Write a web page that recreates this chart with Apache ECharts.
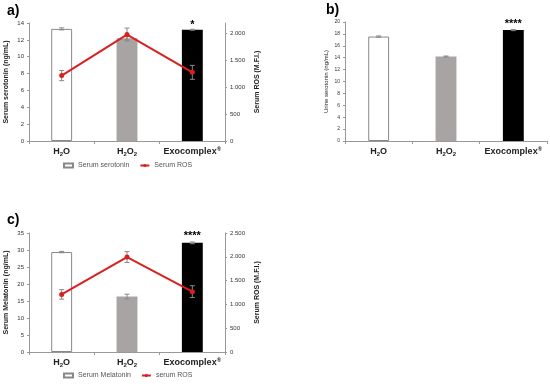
<!DOCTYPE html>
<html><head><meta charset="utf-8">
<script src="https://cdn.jsdelivr.net/npm/echarts@6/dist/echarts.min.js"></script>
<style>html,body{margin:0;padding:0;background:#fff}#c{width:550px;height:384px}</style>
</head><body><div id="c"></div>
<script>
var categories = ['H2O', 'H2O2', 'Exocomplex®'];
// panel a
var serumSerotonin = [13.3, 12.2, 13.2];
var serumSerotoninErr = [0.12, 0.2, 0.06];
var serumROS_a = [1220, 1985, 1280];
var serumROS_aErr = [95, 120, 130];
// panel b
var urineSerotonin = [17.55, 14.2, 18.65];
var urineSerotoninErr = [0.1, 0.08, 0.1];
// panel c
var serumMelatonin = [29.4, 16.3, 32.1];
var serumMelatoninErr = [0.2, 0.7, 0.25];
var serumROS_c = [1210, 1995, 1268];
var serumROS_cErr = [100, 115, 125];
var stars = ['*', '****', '****'];

var FONT = 'Liberation Sans';
var barColors = ['#ffffff', '#a8a4a4', '#000000'];

function catLabel(v) {
  if (v === 'H2O') return '{b|H}{s|2}{b|O}';
  if (v === 'H2O2') return '{b|H}{s|2}{b|O}{s|2}';
  return '{b|Exocomplex}{sup|®}';
}
function xAxis(gi) {
  return {
    type: 'category', gridIndex: gi, data: categories,
    axisLine: {lineStyle: {color: '#999', width: 1}},
    axisTick: {show: true, length: 3, lineStyle: {color: '#999'}},
    axisLabel: {
      interval: 0, formatter: catLabel, margin: 5,
      rich: {
        b: {fontFamily: FONT, fontWeight: 'bold', fontSize: 9, color: '#222'},
        s: {fontFamily: FONT, fontWeight: 'bold', fontSize: 6, color: '#222', verticalAlign: 'bottom', padding: [5, 0, 0, 0]},
        sup: {fontFamily: FONT, fontWeight: 'bold', fontSize: 6, color: '#222', verticalAlign: 'top', padding: [0, 0, 5, 0]}
      }
    }
  };
}
function dotFmt(v) {
  var s = String(v);
  return s.length > 3 ? s.slice(0, s.length - 3) + '.' + s.slice(s.length - 3) : s;
}
function yAxis(gi, max, interval, name, pos, opts) {
  opts = opts || {};
  return {
    type: 'value', gridIndex: gi, min: 0, max: max, interval: interval, position: pos,
    name: name, nameLocation: 'middle', nameRotate: 90, nameGap: opts.nameGap || 22,
    nameTextStyle: {fontFamily: FONT, fontSize: opts.nameSize || 7, fontWeight: opts.nameWeight || 'bold', color: '#222'},
    splitLine: {show: false},
    axisLine: {show: true, lineStyle: {color: '#999', width: 1}},
    axisTick: {show: true, length: 2, lineStyle: {color: '#999'}},
    axisLabel: {fontFamily: FONT, fontSize: opts.labelSize || 6, color: '#333', margin: 5,
      showMaxLabel: opts.showMax !== false, formatter: opts.fmt || null}
  };
}
function barData(vals, starIdx, star, dist) {
  return vals.map(function (v, i) {
    var d = {value: v, itemStyle: {color: barColors[i], borderColor: i === 0 ? '#888' : barColors[i], borderWidth: i === 0 ? 1 : 0}};
    if (i === starIdx) {
      d.label = {show: true, position: 'top', distance: dist, formatter: star,
        fontFamily: FONT, fontWeight: 'bold', fontSize: 11, color: '#000'};
    }
    return d;
  });
}
function errSeries(xi, yi, vals, errs, color) {
  return {
    type: 'custom', xAxisIndex: xi, yAxisIndex: yi, z: 5,
    data: vals.map(function (v, i) { return [i, v - errs[i], v + errs[i]]; }),
    renderItem: function (params, api) {
      var lo = api.coord([api.value(0), api.value(1)]);
      var hi = api.coord([api.value(0), api.value(2)]);
      var w = 2.5;
      var st = {stroke: color, lineWidth: 1};
      return {type: 'group', children: [
        {type: 'line', shape: {x1: lo[0], y1: lo[1], x2: hi[0], y2: hi[1]}, style: st},
        {type: 'line', shape: {x1: lo[0] - w, y1: lo[1], x2: lo[0] + w, y2: lo[1]}, style: st},
        {type: 'line', shape: {x1: hi[0] - w, y1: hi[1], x2: hi[0] + w, y2: hi[1]}, style: st}
      ]};
    }
  };
}
var legendText = {fontFamily: FONT, fontSize: 7, color: '#555'};
var option = {
  animation: false,
  grid: [
    {left: 29, top: 23, width: 196, height: 118},
    {left: 345, top: 22, width: 202, height: 119},
    {left: 29, top: 233, width: 196, height: 119}
  ],
  graphic: [
    {type: 'text', left: 7, top: 4, style: {text: 'a)', fontFamily: FONT, fontWeight: 'bold', fontSize: 14, fill: '#000'}},
    {type: 'text', left: 326, top: 3, style: {text: 'b)', fontFamily: FONT, fontWeight: 'bold', fontSize: 14, fill: '#000'}},
    {type: 'text', left: 7, top: 213, style: {text: 'c)', fontFamily: FONT, fontWeight: 'bold', fontSize: 14, fill: '#000'}}
  ],
  legend: [
    {data: [{name: 'Serum serotonin', icon: 'rect'}, 'Serum ROS'], left: 63, top: 162, itemWidth: 9, itemHeight: 4, itemGap: 10, textStyle: legendText, padding: 0},
    {data: [{name: 'Serum Melatonin', icon: 'rect'}, 'serum ROS'], left: 63, top: 372, itemWidth: 9, itemHeight: 4, itemGap: 10, textStyle: legendText, padding: 0}
  ],
  xAxis: [xAxis(0), xAxis(1), xAxis(2)],
  yAxis: [
    yAxis(0, 14, 2, 'Serum serotonin (ng/mL)', 'left', {nameGap: 19}),
    yAxis(0, 2200, 500, 'Serum ROS (M.F.I.)', 'right', {nameGap: 29, showMax: false, fmt: dotFmt}),
    yAxis(1, 20, 2, 'Urine serotonin (ng/mL)', 'left', {nameGap: 16, nameSize: 6, nameWeight: 'normal', labelSize: 5}),
    yAxis(2, 35, 5, 'Serum Melatonin (ng/mL)', 'left', {nameGap: 19}),
    yAxis(2, 2500, 500, 'Serum ROS (M.F.I.)', 'right', {nameGap: 29, fmt: dotFmt})
  ],
  series: [
    {name: 'Serum serotonin', type: 'bar', xAxisIndex: 0, yAxisIndex: 0, barWidth: '32%',
      itemStyle: {color: '#fff', borderColor: '#888', borderWidth: 1},
      data: barData(serumSerotonin, 2, stars[0], -1)},
    errSeries(0, 0, serumSerotonin, serumSerotoninErr, '#888'),
    {name: 'Serum ROS', type: 'line', xAxisIndex: 0, yAxisIndex: 1, z: 6, data: serumROS_a,
      symbol: 'circle', symbolSize: 5, itemStyle: {color: '#d9201f'}, lineStyle: {color: '#d9201f', width: 2}},
    errSeries(0, 1, serumROS_a, serumROS_aErr, '#888'),

    {name: 'Urine serotonin', type: 'bar', xAxisIndex: 1, yAxisIndex: 2, barWidth: '31%',
      itemStyle: {color: '#fff', borderColor: '#888', borderWidth: 1},
      data: barData(urineSerotonin, 2, stars[1], 1)},
    errSeries(1, 2, urineSerotonin, urineSerotoninErr, '#888'),

    {name: 'Serum Melatonin', type: 'bar', xAxisIndex: 2, yAxisIndex: 3, barWidth: '32%',
      itemStyle: {color: '#fff', borderColor: '#888', borderWidth: 1},
      data: barData(serumMelatonin, 2, stars[2], 1)},
    errSeries(2, 3, serumMelatonin, serumMelatoninErr, '#888'),
    {name: 'serum ROS', type: 'line', xAxisIndex: 2, yAxisIndex: 4, z: 6, data: serumROS_c,
      symbol: 'circle', symbolSize: 5, itemStyle: {color: '#d9201f'}, lineStyle: {color: '#d9201f', width: 2}},
    errSeries(2, 4, serumROS_c, serumROS_cErr, '#888')
  ]
};
var chart = echarts.init(document.getElementById('c'), null, {renderer: 'canvas'});
chart.setOption(option);
</script></body></html>
